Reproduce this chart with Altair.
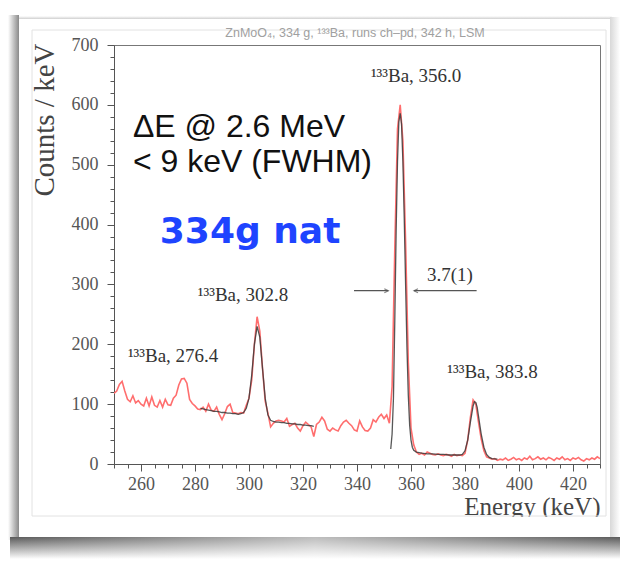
import altair as alt
import pandas as pd

# ---------------- data ----------------
energies = list(range(250, 431))          # 1 keV bins
counts = [
    118, 122, 133, 138, 122, 108, 104, 114, 102, 106,   # 250-259
    100, 97, 110, 97, 112, 98, 95, 106, 95, 108,        # 260-269
    99, 98, 110, 115, 132, 142, 143, 135, 108, 101,     # 270-279
    97, 92, 91, 95, 88, 100, 90, 88, 95, 83,            # 280-289
    74, 84, 96, 100, 86, 85, 84, 86, 85, 98,            # 290-299
    110, 140, 200, 246, 222, 160, 105, 85, 62, 68,      # 300-309
    72, 73, 72, 70, 76, 63, 66, 68, 60, 55,             # 310-319
    64, 70, 66, 62, 46, 66, 70, 78, 72, 58,             # 320-329
    55, 60, 57, 55, 64, 70, 73, 68, 64, 57,             # 330-339
    55, 72, 62, 56, 55, 60, 74, 70, 78, 83,             # 340-349
    76, 82, 68, 130, 360, 560, 600, 540, 370, 170,      # 350-359
    60, 32, 20, 16, 18, 15, 20, 18, 16, 15,             # 360-369
    17, 15, 14, 16, 15, 13, 16, 14, 15, 14,             # 370-379
    18, 40, 78, 107, 100, 70, 42, 22, 12, 10,           # 380-389
    8, 9, 6, 8, 7, 10, 6, 8, 11, 7,                     # 390-399
    9, 6, 10, 8, 13, 7, 9, 12, 8, 10,                   # 400-409
    7, 11, 9, 6, 10, 8, 12, 7, 9, 6,                    # 410-419
    10, 8, 11, 7, 5, 9, 7, 10, 8, 12,                   # 420-429
    9,                                                  # 430
]

fit_a_energy = list(range(282, 325))
fit_a_counts = [
    93, 92, 91, 90, 89, 88, 88, 87, 86, 86,
    85, 85, 84, 84, 83, 84, 86, 93, 110, 148,
    200, 230, 212, 160, 110, 82, 73, 71, 70, 70,
    69, 69, 68, 68, 67, 67, 66, 66, 65, 65,
    64, 64, 63,
]
fit_b_energy = [352.5, 353, 353.5, 354, 354.5, 355, 355.5, 356, 356.5, 357,
                357.5, 358, 358.5, 359, 359.5, 360, 360.5, 361, 362, 363,
                364, 366, 368, 370, 372, 374, 376, 378, 379, 380,
                381, 382, 383, 383.5, 384, 384.5, 385, 386, 387, 388,
                389, 390, 392]
fit_b_counts = [25, 50, 110, 240, 390, 505, 572, 586, 568, 505,
                410, 300, 195, 115, 65, 40, 28, 23, 20, 19,
                18, 17, 17, 16, 16, 15, 15, 15, 16, 22,
                40, 70, 97, 104, 103, 95, 80, 50, 28, 16,
                11, 9, 8]

peak_labels = ["¹³³Ba, 356.0", "¹³³Ba, 302.8", "¹³³Ba, 276.4", "¹³³Ba, 383.8", "3.7(1)"]
peak_label_x = [361.9, 297.8, 271.9, 390.2, 374.4]
peak_label_y = [638, 272, 170, 144, 306]

arrow_start = [338.9, 384.3]
arrow_end = [351.6, 361.1]
arrow_level = [289.5, 289.5]
arrow_shape = ["M -1 -0.5 L 0 0 L -1 0.5", "M 1 -0.5 L 0 0 L 1 0.5"]

note_lines = ["ΔE @ 2.6 MeV", "< 9 keV (FWHM)"]
note_x = [257.0, 257.0]
note_y = [546, 488]
mass_label = ["334g nat"]
mass_x = [300.4]
mass_y = [369]

title_text = ["ZnMoO₄, 334 g, ¹³³Ba, runs ch–pd, 342 h, LSM"]
x_ticks = list(range(250, 431, 5))
y_ticks = list(range(0, 701, 20))

# ---------------- tables ----------------
spec_df = pd.DataFrame({"x": energies, "y": counts})
fit_df = pd.concat([
    pd.DataFrame({"x": fit_a_energy, "y": fit_a_counts, "seg": "a"}),
    pd.DataFrame({"x": fit_b_energy, "y": fit_b_counts, "seg": "b"}),
])
lab_df = pd.DataFrame({"x": peak_label_x, "y": peak_label_y, "t": peak_labels})
arr_df = pd.DataFrame({"x": arrow_start, "x2": arrow_end, "y": arrow_level, "shape": arrow_shape})
note_df = pd.DataFrame({"x": note_x, "y": note_y, "t": note_lines})
mass_df = pd.DataFrame({"x": mass_x, "y": mass_y, "t": mass_label})
title_df = pd.DataFrame({"t": title_text})
one = pd.DataFrame({"d": [0]})

W, H = 486, 419
xs = alt.Scale(domain=[250, 430], nice=False, zero=False)
ys = alt.Scale(domain=[0, 700], nice=False)

x_axis = alt.Axis(
    values=x_ticks, labelExpr="datum.value % 20 === 0 ? datum.label : ''",
    tickSize={"condition": {"test": "datum.value % 20 === 0", "value": 7}, "value": 4},
    labelOverlap=False, labelFont="Liberation Serif", labelFontSize=18, labelColor="#555",
    labelPadding=4, grid=False, domainColor="#555", tickColor="#555",
    title="Energy (keV)", titleFont="Liberation Serif", titleFontSize=25,
    titleFontWeight="normal", titleColor="#444", titleAnchor="end", titleAlign="right",
    titleBaseline="alphabetic", titleX=W, titleY=50,
)
y_axis = alt.Axis(
    values=y_ticks, labelExpr="datum.value % 100 === 0 ? datum.label : ''",
    tickSize={"condition": {"test": "datum.value % 100 === 0", "value": 7}, "value": 4},
    labelOverlap=False, labelFont="Liberation Serif", labelFontSize=18, labelColor="#555",
    labelPadding=9, grid=False, domainColor="#555", tickColor="#555",
    title="Counts / keV", titleFont="Liberation Serif", titleFontSize=29,
    titleFontWeight="normal", titleColor="#444", titleAlign="right",
    titleBaseline="alphabetic", titleX=-61, titleY=-2, titleAngle=270,
)


def X(field):
    return alt.X(field, scale=xs, axis=x_axis)


def Y(field):
    return alt.Y(field, scale=ys, axis=y_axis)


def grad(stops, horizontal):
    return {"gradient": "linear",
            "stops": [{"offset": o, "color": c} for o, c in stops],
            "x1": 0, "y1": 0, "x2": 1 if horizontal else 0, "y2": 0 if horizontal else 1}


def box(x1, x2, y1, y2, **mk):
    return alt.Chart(one).mark_rect(**mk).encode(
        x=alt.value(x1), x2=alt.value(x2), y=alt.value(y1), y2=alt.value(y2))


# photo-frame decoration (pixel positions relative to plot area)
left_shadow = box(-106, -95, -30, 495, fill=grad([(0, "#ffffff"), (1, "#8a8a8a")], True))
top_edge = box(-95, 498, -29, -26, fill=grad([(0, "#ffffff"), (1, "#d0d0d0")], False))
right_edge = box(496, 506, -28, 493, fill=grad([(0, "#d8d8d8"), (1, "#ffffff")], True))
bottom_shadow = box(-104, 506, 492, 514, fill=grad([(0, "#5a5a5a"), (1, "#ffffff")], False))
bottom_light = box(-104, 506, 492, 514, fill=grad([(0, "rgba(255,255,255,0)"),
                                                  (0.5, "rgba(255,255,255,0.6)"),
                                                  (1, "rgba(255,255,255,0)")], True))
inner_frame = box(-82, 492, -15, 471, fill=None, filled=False, stroke="#e2e2e2", strokeWidth=1)
cover = box(-81, 491, 472, 490, fill="#ffffff", filled=True)

title = alt.Chart(title_df).mark_text(font="Liberation Sans", fontSize=12.5, color="#a0a0a0",
                                      align="center", baseline="alphabetic").encode(
    x=alt.value(W / 2 - 2), y=alt.value(-8), text="t:N")

spectrum = alt.Chart(spec_df).mark_line(color="#ff6e6e", strokeWidth=1.6, clip=True).encode(
    x=X("x:Q"), y=Y("y:Q"))
fit = alt.Chart(fit_df).mark_line(color="#3a3a3a", strokeWidth=1.3, opacity=0.85, clip=True).encode(
    x=X("x:Q"), y=Y("y:Q"), detail="seg:N")
arrows = alt.Chart(arr_df).mark_rule(color="#555", strokeWidth=1.2).encode(
    x=X("x:Q"), x2="x2:Q", y=Y("y:Q"))
heads = alt.Chart(arr_df).mark_point(filled=False, color="#555", strokeWidth=1.2, size=64).encode(
    x=X("x2:Q"), y=Y("y:Q"), shape=alt.Shape("shape:N", scale=None))
labels = alt.Chart(lab_df).mark_text(font="Liberation Serif", fontSize=19, color="#333",
                                     align="center", baseline="alphabetic").encode(
    x=X("x:Q"), y=Y("y:Q"), text="t:N")
notes = alt.Chart(note_df).mark_text(font="Liberation Sans", fontSize=32, color="#111",
                                     align="left", baseline="alphabetic").encode(
    x=X("x:Q"), y=Y("y:Q"), text="t:N")
mass = alt.Chart(mass_df).mark_text(font="DejaVu Sans", fontSize=36, fontWeight="bold",
                                    color="#1e44ff", align="center", baseline="alphabetic").encode(
    x=X("x:Q"), y=Y("y:Q"), text="t:N")

chart = alt.layer(
    left_shadow, top_edge, right_edge, bottom_shadow, bottom_light, inner_frame, title,
    spectrum, fit, arrows, heads, labels, notes, mass, cover,
).properties(
    width=W, height=H,
    autosize=alt.AutoSizeParams(type="none"),
    padding={"left": 114, "top": 45, "right": 20, "bottom": 97},
    background="#ffffff",
).configure_view(stroke="#777", strokeWidth=1)

chart.save("out.html", embed_options={"renderer": "svg", "actions": False})
